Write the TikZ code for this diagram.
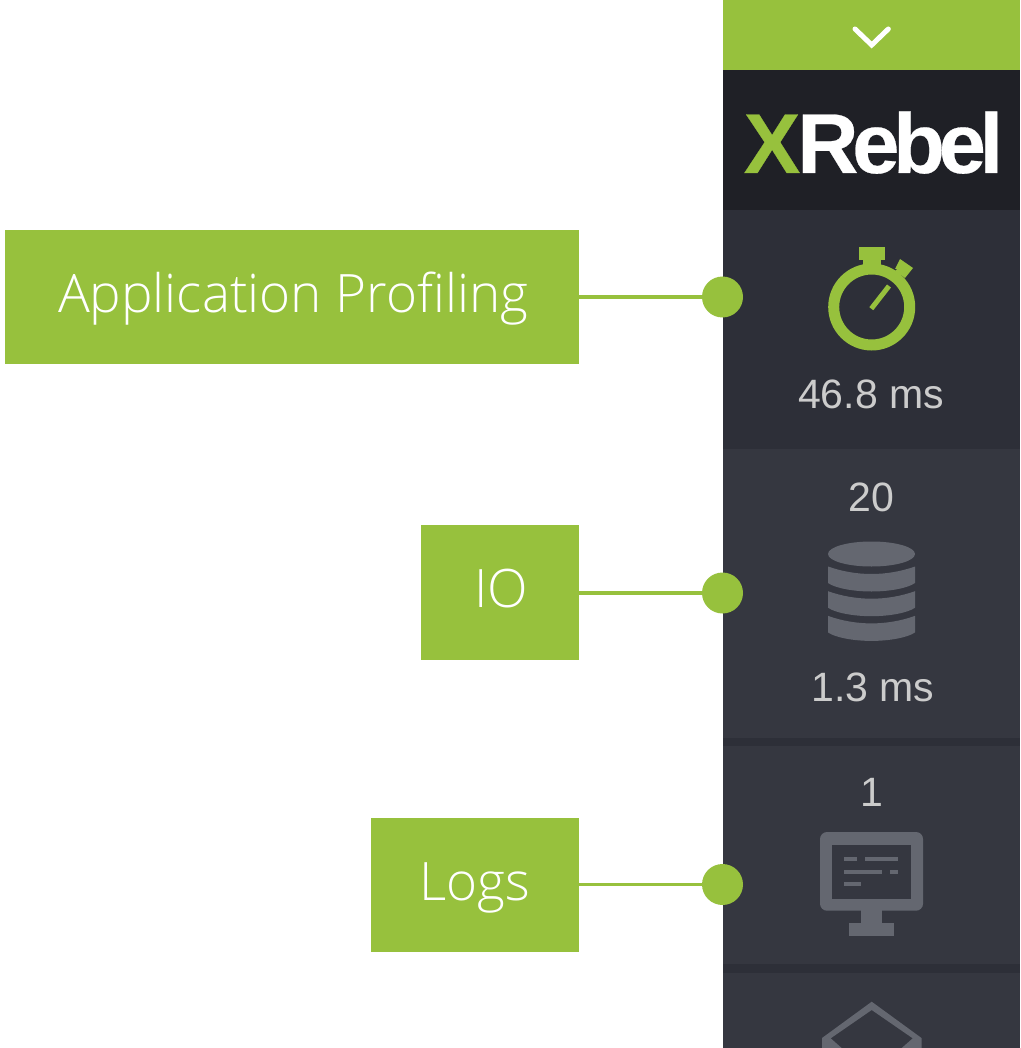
\documentclass[tikz,border=0pt]{standalone}
\usepackage{fontspec}
\setmainfont{Liberation Sans}
\newfontfamily\calloutfont[UprightFont={* Light}]{Open Sans}
\newfontfamily\logofont[LetterSpace=-7.5,FakeBold=0.3]{Liberation Sans}
\definecolor{rebelgreen}{HTML}{97C13D}
\definecolor{logobar}{HTML}{1F2026}
\definecolor{paneldark}{HTML}{2D2F38}
\definecolor{panellight}{HTML}{353740}
\definecolor{icongrey}{HTML}{646770}
\definecolor{statgrey}{HTML}{CCCCCC}
\tikzset{
  callout/.style={fill=rebelgreen, text=white, inner sep=0pt, text height=40pt, text depth=10pt, font=\calloutfont\fontsize{53}{60}\selectfont},
  pin/.style={circle, fill=rebelgreen, inner sep=0pt, minimum size=41pt},
  link/.style={rebelgreen, line width=3.5pt},
  stat/.style={text=statgrey, inner sep=0pt, font=\fontsize{41}{48}\selectfont},
  logotext/.style={inner sep=0pt, font=\logofont\bfseries\fontsize{85}{90}\selectfont}
}
\begin{document}
\begin{tikzpicture}[x=1pt, y=-1pt]
      \useasboundingbox (0, 0) rectangle (1020, 1048);
      \fill [white] (0, 0) rectangle (1020, 1048);

      \fill [rebelgreen] (723, 0) rectangle (1020, 70);
      \fill [logobar] (723, 70) rectangle (1020, 210);
      \fill [paneldark] (723, 210) rectangle (1020, 449);
      \fill [panellight] (723, 449) rectangle (1020, 1048);
      \fill [paneldark] (723, 738) rectangle (1020, 746);
      \fill [paneldark] (723, 964) rectangle (1020, 973);

      \draw [white, line width=5pt, line cap=round, line join=miter] (855, 29) -- (871.7, 45) -- (888.3, 29);

      \node [logotext, text=rebelgreen, anchor=base west] (logox) at (743.5, 173) {X};
      \node [logotext, text=white, anchor=base west] (logorebel) at (797, 173) {Rebel};

      \node [callout, minimum width=573.5pt, minimum height=134.5pt] (profilebox) at (291.75, 297) {\hspace*{3pt}Application Profiling};
      \node [callout, minimum width=157.5pt, minimum height=135pt] (iobox) at (499.75, 592.5) {\hspace*{3pt}IO};
      \node [callout, minimum width=207.5pt, minimum height=134.5pt] (logsbox) at (474.75, 885) {Logs};

      \node [pin] (profilepin) at (722.5, 297) {};
      \node [pin] (iopin) at (722.5, 593) {};
      \node [pin] (logspin) at (722.5, 884.5) {};

      \draw [link] (profilebox) -- (profilepin);
      \draw [link] (iobox.east |- iopin) -- (iopin);
      \draw [link] (logsbox.east |- logspin) -- (logspin);

      \node [stat] (profiletime) at (871, 394) {46.8 ms};
      \node [stat] (iocount) at (871, 497) {20};
      \node [stat] (iotime) at (873, 687) {1.3 ms};
      \node [stat] (logscount) at (872, 792) {1};

      % stopwatch
      \draw [rebelgreen, line width=11pt] (871.7, 307) circle [radius=38];
      \fill [rebelgreen] (859, 247) rectangle (885, 260);
      \fill [rebelgreen] (863, 260) rectangle (881, 270);
      \fill [rebelgreen] (900, 259) -- (913, 268) -- (905, 278) -- (901, 275) -- (897, 281) -- (890, 276) -- (897, 269) -- (895, 269) -- cycle;
      \draw [rebelgreen, line width=5pt] (889, 286) -- (871.3, 308.7);

      % database
      \fill [icongrey] (871.5, 554) ellipse [x radius=43.5, y radius=12.5];
      \foreach \dy in {0, 24.7, 49.4} {
        \fill [icongrey, yshift=-\dy pt] (828, 566.5) .. controls (842, 571.5) and (857, 574) .. (871.5, 574)
          .. controls (886, 574) and (901, 571.5) .. (915, 566.5) -- (915, 583)
          .. controls (908, 588) and (890, 591.5) .. (871.5, 591.5)
          .. controls (853, 591.5) and (835, 588) .. (828, 583) -- cycle;
      }

      % monitor
      \fill [icongrey, rounded corners=7pt] (820, 832) rectangle (923, 910.7);
      \fill [panellight] (832, 845) rectangle (910.7, 898.7);
      \fill [icongrey] (861, 910) rectangle (882, 923);
      \fill [icongrey] (848.7, 922.7) rectangle (894.3, 935.7);
      \fill [icongrey] (844.3, 857.3) rectangle (857, 861.3);
      \fill [icongrey] (865, 857.3) rectangle (898.3, 861.3);
      \fill [icongrey] (844.3, 870) rectangle (881.7, 873.7);
      \fill [icongrey] (890, 870) rectangle (898.3, 873.7);
      \fill [icongrey] (844.3, 882) rectangle (861.3, 886);

      % cut off box at the bottom
      \fill [icongrey, even odd rule] (822, 1048) -- (822, 1038) -- (871.7, 1001.7) -- (921.5, 1038) -- (921.5, 1048) -- cycle
        (841.7, 1048) -- (830.7, 1038.3) -- (871.7, 1010) -- (912.7, 1038.3) -- (901.7, 1048) -- cycle;
\end{tikzpicture}
\end{document}
